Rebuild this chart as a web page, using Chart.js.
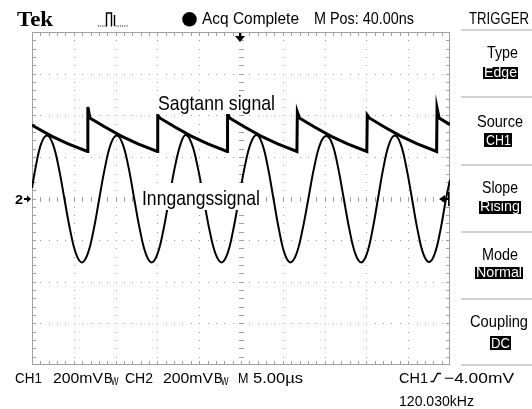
<!DOCTYPE html>
<html><head><meta charset="utf-8">
<script src="https://cdn.jsdelivr.net/npm/chart.js@4.4.0/dist/chart.umd.min.js"></script>
<style>
html,body{margin:0;padding:0;background:#fff;}
#wrap{position:relative;width:532px;height:409px;overflow:hidden;background:#fff;}
#c{position:absolute;left:0;top:0;}
.t{position:absolute;white-space:nowrap;line-height:1;font-family:"Liberation Sans",Arial,sans-serif;color:#000;transform-origin:0 0;}
.box{position:absolute;}
svg{position:absolute;left:0;top:0;}
</style></head><body>
<div id="wrap">
<canvas id="c" width="532" height="409"></canvas>
<svg width="532" height="409" viewBox="0 0 532 409">
  <circle cx="189.5" cy="19.3" r="7.3" fill="#000"/>
  <path d="M98,26 H105.5" stroke="#000" stroke-width="1.2" stroke-dasharray="1,1.2" fill="none"/>
  <path d="M106.5,26.5 V13 H111.5 V26.5 M114.5,15 V26" stroke="#000" stroke-width="1.4" fill="none"/>
  <path d="M115.5,26 H128" stroke="#000" stroke-width="1.2" stroke-dasharray="1,1.2" fill="none"/>
  <polyline points="430.5,381.5 433.5,381.5 437.5,373.5 441,373.5" stroke="#000" stroke-width="1.3" fill="none"/>
  <g fill="#a8a8a8">
    <rect x="461" y="29.5" width="71" height="1"/>
    <rect x="461" y="96.5" width="71" height="1"/>
    <rect x="461" y="164.5" width="71" height="1"/>
    <rect x="461" y="231.5" width="71" height="1"/>
    <rect x="461" y="298.5" width="71" height="1"/>
    <rect x="461" y="364.5" width="71" height="1"/>
  </g>
</svg>
<div class="box" style="left:155px;top:93px;width:122px;height:21px;background:#fff"></div>
<div class="box" style="left:140px;top:183px;width:123px;height:27px;background:#fff"></div>
<div class="box" style="left:483px;top:67px;width:35px;height:12px;background:#000"></div>
<div class="box" style="left:484px;top:133px;width:28px;height:14px;background:#000"></div>
<div class="box" style="left:479px;top:201px;width:42px;height:13px;background:#000"></div>
<div class="box" style="left:475px;top:267px;width:48px;height:12px;background:#000"></div>
<div class="box" style="left:490px;top:336px;width:21px;height:14px;background:#000"></div>
</div>
<script>
// ---- data ----
// CH1 "Inngangssignal": time in microseconds, voltage in mV
const sineT = [
  -25.00,-24.55,-23.90,-23.21,-22.52,-21.82,-21.13,-20.43,-19.73,-19.03,-18.34,-17.64,
  -16.95,-16.25,-15.56,-14.86,-14.17,-13.47,-12.78,-12.08,-11.38,-10.68,-9.99,-9.29,
  -8.60,-7.90,-7.21,-6.62,-5.90,-5.19,-4.47,-3.76,-3.04,-2.33,-1.63,-0.94,
  -0.24,0.45,1.15,1.85,2.53,3.20,3.88,4.56,5.23,5.91,6.63,7.34,
  8.06,8.77,9.49,10.20,10.90,11.59,12.29,12.99,13.68,14.38,15.05,15.72,
  16.39,17.06,17.73,18.40,19.08,19.76,20.45,21.13,21.81,22.49,23.17,23.85,
  24.53,25.00];
const sineV = [
  50,153,264,303,264,152,0,-153,-266,-307,-266,-153,
  0,153,264,303,264,153,0,-153,-266,-307,-266,-153,
  0,153,264,305,264,153,0,-153,-266,-307,-266,-153,
  0,153,264,305,264,153,0,-153,-266,-307,-266,-153,
  0,153,264,300,264,153,0,-153,-266,-307,-266,-153,
  0,153,264,303,264,153,0,-153,-266,-305,-266,-153,
  0,90];
// CH2 "Sagtann signal"
const sawT = [
  -25.00,-24.67,-22.67,-20.67,-18.37,
  -18.32,-18.07,-16.32,-14.32,-12.32,-10.01,
  -9.96,-9.71,-7.96,-5.96,-3.96,-1.66,
  -1.61,-1.36,0.39,2.39,4.39,6.69,
  6.74,6.99,8.74,10.74,12.74,15.05,
  15.10,15.35,17.10,19.10,21.10,23.40,
  23.45,23.70,25.00];
const sawV = [
  353,345,300,262,226,
  440,387,345,300,262,226,
  401,387,345,300,262,226,
  410,387,345,300,262,226,
  416,387,345,300,262,226,
  401,387,345,300,262,226,
  435,387,355];
// scope settings
const timeRange = [-25, 25];      // 10 div x 5 us
const voltRange = [-800, 800];    // 8 div x 200 mV
const trigLevel = -4;             // mV
const trigPos = 0;                // us

const GRID = '#a0a0a0';
const grat = {
  id:'grat',
  beforeDatasetsDraw(chart){
    const {ctx, chartArea:a, scales:{x,y}} = chart;
    const X = t => Math.min(Math.round(x.getPixelForValue(t)), a.right-1);
    const Y = v => Math.min(Math.round(y.getPixelForValue(v)), a.bottom-1);
    ctx.save();
    ctx.fillStyle = GRID;
    for (let t=-20; t<=20; t+=5){ if(t===0) continue;
      const px=X(t); for(let v=-760; v<=760; v+=40) ctx.fillRect(px, Y(v), 1, 1); }
    for (let v=-600; v<=600; v+=200){ if(v===0) continue;
      const py=Y(v); for(let t=-24; t<=24; t+=1) ctx.fillRect(X(t), py, 1, 1); }
    const cx=X(0), cy=Y(0);
    for(let v=-760; v<=760; v+=40) ctx.fillRect(cx-2, Y(v), 5, 1);
    for(let t=-24; t<=24; t+=1) ctx.fillRect(X(t), cy-2, 1, 5);
    // border
    ctx.fillRect(a.left, a.top, a.right-a.left, 1);
    ctx.fillRect(a.left, a.bottom-1, a.right-a.left, 1);
    ctx.fillRect(a.left, a.top, 1, a.bottom-a.top);
    ctx.fillRect(a.right-1, a.top, 1, a.bottom-a.top);
    for(let t=-24; t<=24; t+=1){ const px=X(t); ctx.fillRect(px, a.top, 1, 4); ctx.fillRect(px, a.bottom-4, 1, 4); }
    for(let v=-760; v<=760; v+=40){ const py=Y(v); ctx.fillRect(a.left, py, 4, 1); ctx.fillRect(a.right-4, py, 4, 1); }
    ctx.restore();
  }
};
const markers = {
  id:'markers',
  afterDatasetsDraw(chart){
    const {ctx, chartArea:a, scales:{x,y}} = chart;
    ctx.save();
    ctx.fillStyle='#000'; ctx.strokeStyle='#000';
    // trigger position (top)
    const px = Math.round(x.getPixelForValue(trigPos)) - 1;
    ctx.fillRect(px-1, a.top+1, 2, 4);
    ctx.beginPath(); ctx.moveTo(px-5, a.top+4); ctx.lineTo(px+5, a.top+4); ctx.lineTo(px, a.top+10); ctx.closePath(); ctx.fill();
    // trigger level (right)
    const ty = Math.round(y.getPixelForValue(trigLevel));
    ctx.beginPath(); ctx.moveTo(a.right-11, ty); ctx.lineTo(a.right-5, ty-4); ctx.lineTo(a.right-5, ty+4); ctx.closePath(); ctx.fill();
    ctx.fillRect(a.right-6, ty-1, 4, 2);
    ctx.fillRect(a.right-2, ty-7, 1.5, 14);
    // CH2 ground marker (left)
    const gy = Math.round(y.getPixelForValue(0));
    ctx.fillRect(a.left-8, gy-1, 4, 2);
    ctx.beginPath(); ctx.moveTo(a.left-1, gy); ctx.lineTo(a.left-5, gy-3.5); ctx.lineTo(a.left-5, gy+3.5); ctx.closePath(); ctx.fill();
    ctx.restore();
  }
};

new Chart(document.getElementById('c'), {
  type:'line',
  data:{datasets:[
    {label:'Inngangssignal', data:sineT.map((t,i)=>({x:t,y:sineV[i]})),
     borderColor:'#000', borderWidth:2, pointRadius:0, tension:0.4, fill:false},
    {label:'Sagtann signal', data:sawT.map((t,i)=>({x:t,y:sawV[i]})),
     borderColor:'#000', borderWidth:3, pointRadius:0, tension:0, fill:false}
  ]},
  options:{
    responsive:false, animation:false, devicePixelRatio:1, events:[],
    layout:{padding:{left:32, top:32, right:82, bottom:44}},
    plugins:{legend:{display:false}, tooltip:{enabled:false}},
    scales:{
      x:{type:'linear', min:timeRange[0], max:timeRange[1], display:false},
      y:{type:'linear', min:voltRange[0], max:voltRange[1], display:false}
    }
  },
  plugins:[grat, markers]
});

// ---- text (text, left, baseline, size, width, options) ----
const W = '#fff';
const TXT = [
  ['Tek',17,26.7,22,36,{ff:'"Liberation Serif","Times New Roman",serif',fw:'bold'}],
  ['Acq Complete',202,24.4,17,97],
  ['M Pos: 40.00ns',314,24.4,17,100],
  ['TRIGGER',469,24.3,17,60],
  ['Type',487,59,16,31],
  ['Edge',484,76.8,14,33,{c:W}],
  ['Source',477,127.3,16,46],
  ['CH1',486,145,14,25,{c:W}],
  ['Slope',482,194,16,36],
  ['Rising',480,211.2,14,40,{c:W}],
  ['Mode',482,261,16,36],
  ['Normal',476,277.3,14,46,{c:W}],
  ['Coupling',470,327.3,16,58],
  ['DC',491,348.3,14,19,{c:W}],
  ['CH1',15,382.3,15,27],
  ['200mV',53,382.3,15,50],
  ['B',103.5,382.3,15,8.5],
  ['W',110.5,385.5,11,7.5],
  ['CH2',125,382.3,15,28],
  ['200mV',163,382.3,15,50],
  ['B',213.5,382.3,15,8.5],
  ['W',220.5,385.5,11,7.5],
  ['M',238,382.3,15,10.5],
  ['5.00\u00b5s',253,382.3,15,50],
  ['CH1',399,382.3,15,29],
  ['\u22124.00mV',444,382.3,15,70],
  ['120.030kHz',399,405.7,15,75],
  ['2',15,204.5,12,8,{fw:'bold'}],
  ['Sagtann signal',158,110,21,117],
  ['Inngangssignal',142,205,21,118]
];
function place(){
  const wrap=document.getElementById('wrap');
  for(const s of TXT){
    const [str,x,base,size,w,o={}]=s;
    const d=document.createElement('div');
    d.className='t'; d.textContent=str;
    d.style.fontSize=size+'px';
    if(o.ff) d.style.fontFamily=o.ff;
    if(o.fw) d.style.fontWeight=o.fw;
    if(o.c) d.style.color=o.c;
    wrap.appendChild(d);
    const nat=d.getBoundingClientRect().width;
    d.style.left=x+'px';
    d.style.top=(base-0.846*size)+'px';
    d.style.transform='scaleX('+(w/nat).toFixed(4)+')';
  }
}
if(document.fonts && document.fonts.ready){ document.fonts.ready.then(place); } else place();
</script>
</body></html>
